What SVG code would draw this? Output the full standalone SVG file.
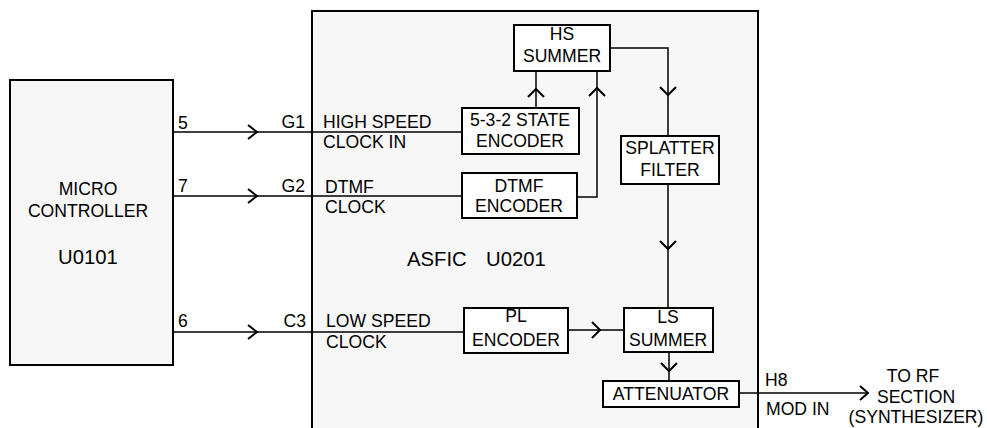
<svg xmlns="http://www.w3.org/2000/svg" width="987" height="428" viewBox="0 0 987 428">
<style>
text{font-family:"Liberation Sans",Arial,sans-serif;font-size:17.6px;fill:#000}
.c{text-anchor:middle}
.e{text-anchor:end}
.lg{font-size:20.3px}
.big{fill:#f7f7f7;stroke:#000;stroke-width:2}
.box{fill:#fff;stroke:#000;stroke-width:2}
.ln{fill:none;stroke:#000;stroke-width:1.5}
.ah{fill:none;stroke:#000;stroke-width:2}
</style>
<rect width="987" height="428" fill="#fff"/>
<g id="asfic">
<rect class="big" x="312" y="11" width="446" height="430"/>
<text class="lg" x="407" y="266">ASFIC</text>
<text class="lg" x="486" y="266">U0201</text>
<text x="323" y="128">HIGH SPEED</text>
<text x="323" y="148">CLOCK IN</text>
<text x="325" y="193">DTMF</text>
<text x="325" y="213">CLOCK</text>
<text x="326" y="327">LOW SPEED</text>
<text x="326" y="348">CLOCK</text>
</g>
<g id="micro">
<rect class="big" x="10" y="80" width="163" height="285"/>
<text class="c" x="88" y="195">MICRO</text>
<text class="c" x="88" y="217">CONTROLLER</text>
<text class="c lg" x="88" y="264">U0101</text>
</g>
<g id="connectors">
<path class="ln" d="M173 132H462M173 196H462M173 332H464"/>
<path class="ln" d="M536 108V71M577 197H597V71M610 48H668V136M668 184V308M568 330H624M669 352V381M739 393H868"/>
<path class="ah" d="M248 125L257 132L248 139M248 189L257 196L248 203M248 325L257 332L248 339"/>
<path class="ah" d="M528 97L536 89L544 97M589 96L597 88L605 96M660 87L668 95L676 87M660 241L668 249L676 241M592 322L600 330L592 338M661 363L669 371L677 363M860 386L868 393L860 400"/>
</g>
<g id="pins">
<text x="178" y="129">5</text>
<text x="178" y="192">7</text>
<text x="178" y="327">6</text>
<text class="e" x="305" y="128">G1</text>
<text class="e" x="305" y="192">G2</text>
<text class="e" x="306" y="327">C3</text>
<text x="765" y="386">H8</text>
<text x="766" y="415">MOD IN</text>
</g>
<g id="hs-summer">
<rect class="box" x="514" y="25" width="96" height="46"/>
<text class="c" x="562" y="40">HS</text>
<text class="c" x="562" y="62">SUMMER</text>
</g>
<g id="state-encoder">
<rect class="box" x="462" y="108" width="117" height="46"/>
<text class="c" x="520" y="126">5-3-2 STATE</text>
<text class="c" x="520" y="147">ENCODER</text>
</g>
<g id="dtmf-encoder">
<rect class="box" x="462" y="173" width="115" height="45"/>
<text class="c" x="519" y="192">DTMF</text>
<text class="c" x="519" y="212">ENCODER</text>
</g>
<g id="splatter">
<rect class="box" x="621" y="136" width="98" height="48"/>
<text class="c" x="670" y="154">SPLATTER</text>
<text class="c" x="670" y="176">FILTER</text>
</g>
<g id="pl-encoder">
<rect class="box" x="464" y="308" width="104" height="45"/>
<text class="c" x="516" y="322">PL</text>
<text class="c" x="516" y="346">ENCODER</text>
</g>
<g id="ls-summer">
<rect class="box" x="624" y="308" width="89" height="44"/>
<text class="c" x="668" y="323">LS</text>
<text class="c" x="668" y="346">SUMMER</text>
</g>
<g id="attenuator">
<rect class="box" x="603" y="381" width="136" height="26"/>
<text class="c" x="671" y="400">ATTENUATOR</text>
</g>
<g id="rf-section">
<text class="c" x="913" y="382">TO RF</text>
<text class="c" x="916" y="403">SECTION</text>
<text class="c" x="916" y="423">(SYNTHESIZER)</text>
</g>
</svg>
